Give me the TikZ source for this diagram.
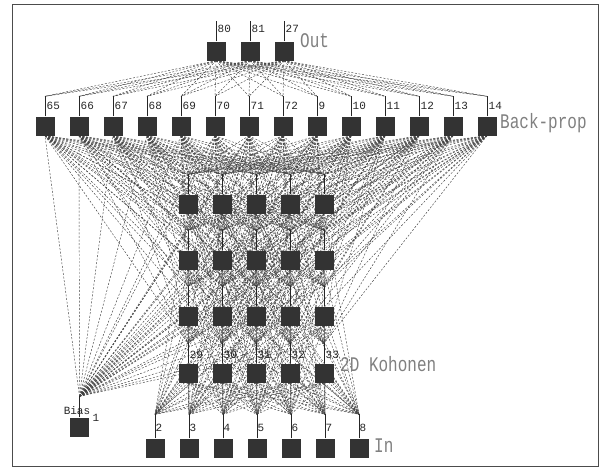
\documentclass[tikz,border=0pt]{standalone}
\usepackage{fontspec}
\setmonofont{Liberation Mono}
\usetikzlibrary{calc,backgrounds}
\begin{document}
\begin{tikzpicture}[x=1pt,y=-1pt,
  neuron/.style={rectangle,fill=black!80,minimum size=19pt,inner sep=0pt},
  conn/.style={draw=black!75,line width=0.45pt,dash pattern=on 2pt off 1.6pt},
  tickline/.style={draw=black!85,line width=0.6pt},
  num/.style={font=\ttfamily\fontsize{11}{11}\selectfont,text=black!85,inner sep=0pt,anchor=west},
  big/.style={font=\ttfamily\fontsize{16}{16}\selectfont,text=black!50,inner sep=0pt,anchor=west}]
\useasboundingbox (0,0) rectangle (605,472);
\draw[black!70,line width=0.6pt] (12,4) rectangle (598,466);

% Out layer
\foreach \l [count=\i, evaluate=\i as \x using 182+34*\i] in {80,81,27} {
  \node[neuron] (o\i) at (\x,51) {};
  \draw[tickline] (o\i.north) -- ++(0,-20) coordinate (o\i t);
  \node[num] (ol\i) at ($(o\i.north)+(1.5,-12)$) {\l};
}
\node[big] (outlbl) at (300,41) {\scalebox{1}[1.3]{Out}};

% Back-prop layer
\foreach \l [count=\i, evaluate=\i as \x using 45+34*(\i-1)] in {65,66,67,68,69,70,71,72,9,10,11,12,13,14} {
  \node[neuron] (b\i) at (\x,126) {};
  \draw[tickline] (b\i.north) -- ++(0,-20) coordinate (b\i t);
  \node[num] (bl\i) at ($(b\i.north)+(1.5,-10)$) {\l};
}
\node[big] (bplbl) at (500,123) {\scalebox{1}[1.3]{Back-prop}};

% Kohonen layer
\foreach \r/\y in {1/204,2/260,3/316,4/373} {
  \foreach \c [evaluate=\c as \x using 154+34*\c] in {1,...,5} {
    \node[neuron] (k\r\c) at (\x,\y) {};
    \draw[tickline] (k\r\c.north) -- ++(0,-20) coordinate (k\r\c t);
  }
}
\foreach \l [count=\c] in {29,30,31,32,33} {
  \node[num] (kl\c) at ($(k4\c.north)+(1.5,-8)$) {\l};
}
\node[big] (kohlbl) at (340,364) {\scalebox{1}[1.3]{2D Kohonen}};

% Input layer
\foreach \l [count=\i, evaluate=\i as \x using 121+34*\i] in {2,3,4,5,6,7,8} {
  \node[neuron] (in\i) at (\x,448) {};
  \draw[tickline] (in\i.north) -- ++(0,-24) coordinate (in\i t);
  \node[num] (il\i) at ($(in\i.north)+(0.5,-10)$) {\l};
}
\node[big] (inlbl) at (374,446) {\scalebox{1}[1.3]{In}};

% Bias
\node[neuron] (bias) at (79.5,427) {};
\draw[tickline] (bias.north) -- ++(0,-21) coordinate (biast);
\node[num,anchor=center] (biaslbl) at (77,411) {Bias};
\node[num,anchor=center] (biasone) at (96,418) {1};

% connections
\begin{scope}[on background layer]
\foreach \i in {1,2,3} {
  \foreach \j in {1,...,14} { \draw[conn] (o\i.south) -- (b\j t); }
}
\foreach \j in {1,...,14} {
  \foreach \r in {1,...,4} {
    \foreach \c in {1,...,5} { \draw[conn] (b\j.south) -- (k\r\c t); }
  }
  \draw[conn] (biast) -- (b\j.south);
}
\foreach \r in {1,...,4} {
  \foreach \c in {1,...,5} {
    \foreach \n in {1,...,7} { \draw[conn] (k\r\c.south) -- (in\n t); }
    \draw[conn] (biast) -- (k\r\c t);
  }
}
\end{scope}
\end{tikzpicture}
\end{document}
